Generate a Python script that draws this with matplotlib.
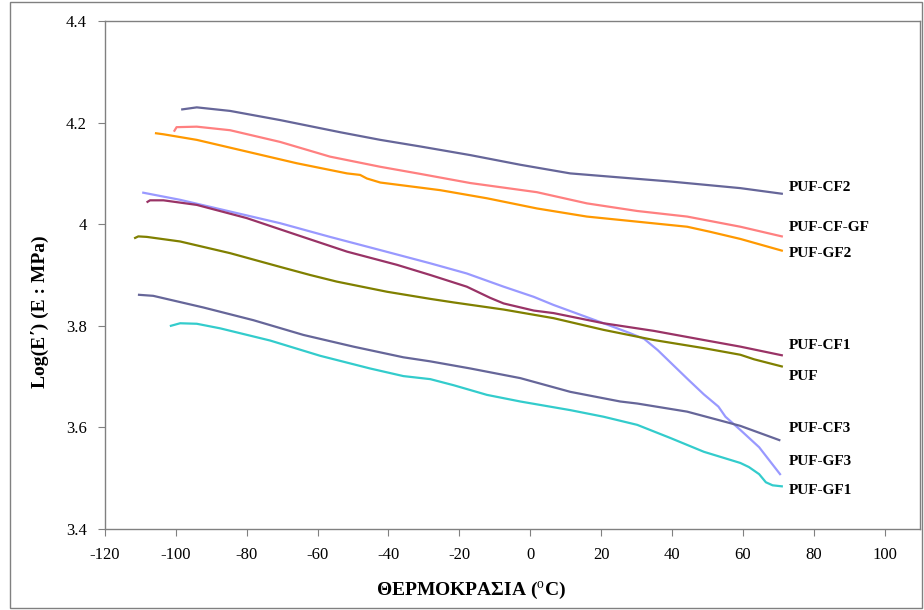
import numpy as np
import matplotlib.pyplot as plt
from matplotlib.patches import Rectangle

plt.rcParams['font.family'] = ['Liberation Serif', 'DejaVu Serif']
plt.rcParams['mathtext.fontset'] = 'custom'
plt.rcParams['mathtext.rm'] = 'Liberation Serif'
plt.rcParams['mathtext.bf'] = 'Liberation Serif:bold'
plt.rcParams['axes.unicode_minus'] = False

# temperature (C) / log(E') readings, one pair of lists per sample
cf2_t = [-98.2, -94.1, -84.7, -70.6, -53.6, -42.3, -31.0, -16.9, -2.8, 11.3, 25.4, 39.6, 59.3, 71.0]
cf2_e = [4.226, 4.230, 4.223, 4.205, 4.181, 4.166, 4.153, 4.136, 4.117, 4.100, 4.092, 4.084, 4.071, 4.060]

cfgf_t = [-100.4, -99.8, -94.1, -84.7, -70.6, -56.5, -42.3, -31.0, -16.9, 1.9, 16.0, 30.2, 44.3, 59.3, 71.0]
cfgf_e = [4.184, 4.191, 4.192, 4.185, 4.162, 4.133, 4.113, 4.099, 4.081, 4.063, 4.041, 4.026, 4.015, 3.995, 3.976]

gf2_t = [-105.6, -103.5, -94.1, -80.0, -65.9, -51.7, -48.0, -46.1, -42.3, -31.0, -25.4, -12.2, 1.9, 16.0, 30.2, 44.3, 50.8, 59.3, 71.0]
gf2_e = [4.179, 4.177, 4.166, 4.143, 4.120, 4.100, 4.097, 4.090, 4.082, 4.072, 4.067, 4.051, 4.031, 4.015, 4.005, 3.995, 3.985, 3.971, 3.948]

gf3_t = [-109.2, -98.8, -84.7, -70.6, -56.5, -42.3, -28.2, -17.9, -7.5, 1.0, 6.6, 20.7, 28.0, 32.2, 36.0, 40.0, 44.6, 49.0, 53.1, 55.1, 59.3, 64.6, 70.5]
gf3_e = [4.062, 4.048, 4.025, 4.002, 3.975, 3.949, 3.923, 3.903, 3.877, 3.857, 3.841, 3.805, 3.786, 3.774, 3.752, 3.725, 3.694, 3.665, 3.641, 3.621, 3.595, 3.561, 3.508]

cf1_t = [-108.0, -107.3, -103.5, -94.1, -80.0, -65.9, -51.7, -37.6, -28.2, -17.9, -11.3, -7.5, 1.0, 6.6, 20.7, 34.9, 49.0, 59.3, 71.0]
cf1_e = [4.044, 4.047, 4.047, 4.038, 4.012, 3.979, 3.946, 3.920, 3.900, 3.877, 3.855, 3.844, 3.830, 3.825, 3.805, 3.790, 3.772, 3.759, 3.742]

puf_t = [-111.5, -110.6, -108.2, -98.8, -84.7, -70.6, -62.1, -54.6, -40.4, -28.2, -21.6, -7.5, 6.6, 20.7, 34.9, 49.0, 59.3, 63.2, 71.0]
puf_e = [3.973, 3.976, 3.975, 3.966, 3.943, 3.916, 3.900, 3.887, 3.867, 3.853, 3.846, 3.832, 3.815, 3.792, 3.772, 3.756, 3.743, 3.734, 3.720]

cf3_t = [-110.4, -106.4, -92.2, -78.1, -64.0, -49.9, -35.8, -28.2, -16.9, -2.8, 11.3, 25.4, 30.2, 44.3, 59.3, 70.3]
cf3_e = [3.861, 3.859, 3.836, 3.811, 3.782, 3.759, 3.738, 3.730, 3.716, 3.697, 3.670, 3.651, 3.647, 3.631, 3.603, 3.575]

gf1_t = [-101.4, -98.8, -94.1, -87.5, -73.4, -59.3, -45.2, -35.8, -28.2, -21.6, -12.2, -2.8, 11.3, 20.7, 30.2, 39.6, 49.0, 59.3, 61.7, 64.6, 66.5, 68.4, 71.0]
gf1_e = [3.800, 3.805, 3.804, 3.795, 3.771, 3.741, 3.716, 3.701, 3.695, 3.683, 3.664, 3.651, 3.634, 3.621, 3.605, 3.579, 3.552, 3.530, 3.522, 3.508, 3.492, 3.486, 3.484]

names = ['PUF-CF2', 'PUF-CF-GF', 'PUF-GF2', 'PUF-GF3', 'PUF-CF1', 'PUF', 'PUF-CF3', 'PUF-GF1']
label_y = [4.073, 3.993, 3.943, 3.532, 3.762, 3.701, 3.597, 3.475]

series = [(cf2_t, cf2_e), (cfgf_t, cfgf_e), (gf2_t, gf2_e), (gf3_t, gf3_e),
          (cf1_t, cf1_e), (puf_t, puf_e), (cf3_t, cf3_e), (gf1_t, gf1_e)]
colors = ['#666699', '#FF8080', '#FF9900', '#9999FF', '#993366', '#808000', '#666699', '#33CCCC']

fig = plt.figure(figsize=(9.24, 6.10), dpi=100)
ax = fig.add_axes([105/924, 1 - 529/610, 815/924, 508/610])

for (t, e), c in zip(series, colors):
    ax.plot(t, e, color=c, lw=1.6)

for name, yl in zip(names, label_y):
    ax.text(73.0, yl, name, fontsize=11, fontweight='bold', va='center', ha='left')

ax.set_xlim(-120, 110)
ax.set_ylim(3.4, 4.4)
ax.set_xticks(np.arange(-120, 101, 20))
ax.set_yticks([3.4, 3.6, 3.8, 4.0, 4.2, 4.4])
ax.set_yticklabels(['3.4', '3.6', '3.8', '4', '4.2', '4.4'])
ax.tick_params(direction='out', length=5, color='#808080', labelsize=12, pad=8)
for s in ax.spines.values():
    s.set_color('#808080')
    s.set_linewidth(1)

fig.text(471/924, 1 - 591/610, 'ΘΕΡΜΟΚΡΑΣΙΑ ($^{\\mathrm{o}}$C)', fontsize=14, fontweight='bold',
         ha='center', va='center')
fig.text(40/924, 1 - 312/610, 'Log(E΄) (E : MPa)', fontsize=14, fontweight='bold',
         ha='center', va='center', rotation=90)

fig.patches.append(Rectangle((0.011, 0.003), 0.987, 0.994, transform=fig.transFigure,
                             fill=False, edgecolor='#808080', lw=1))

fig.savefig('out.png', dpi=100)
